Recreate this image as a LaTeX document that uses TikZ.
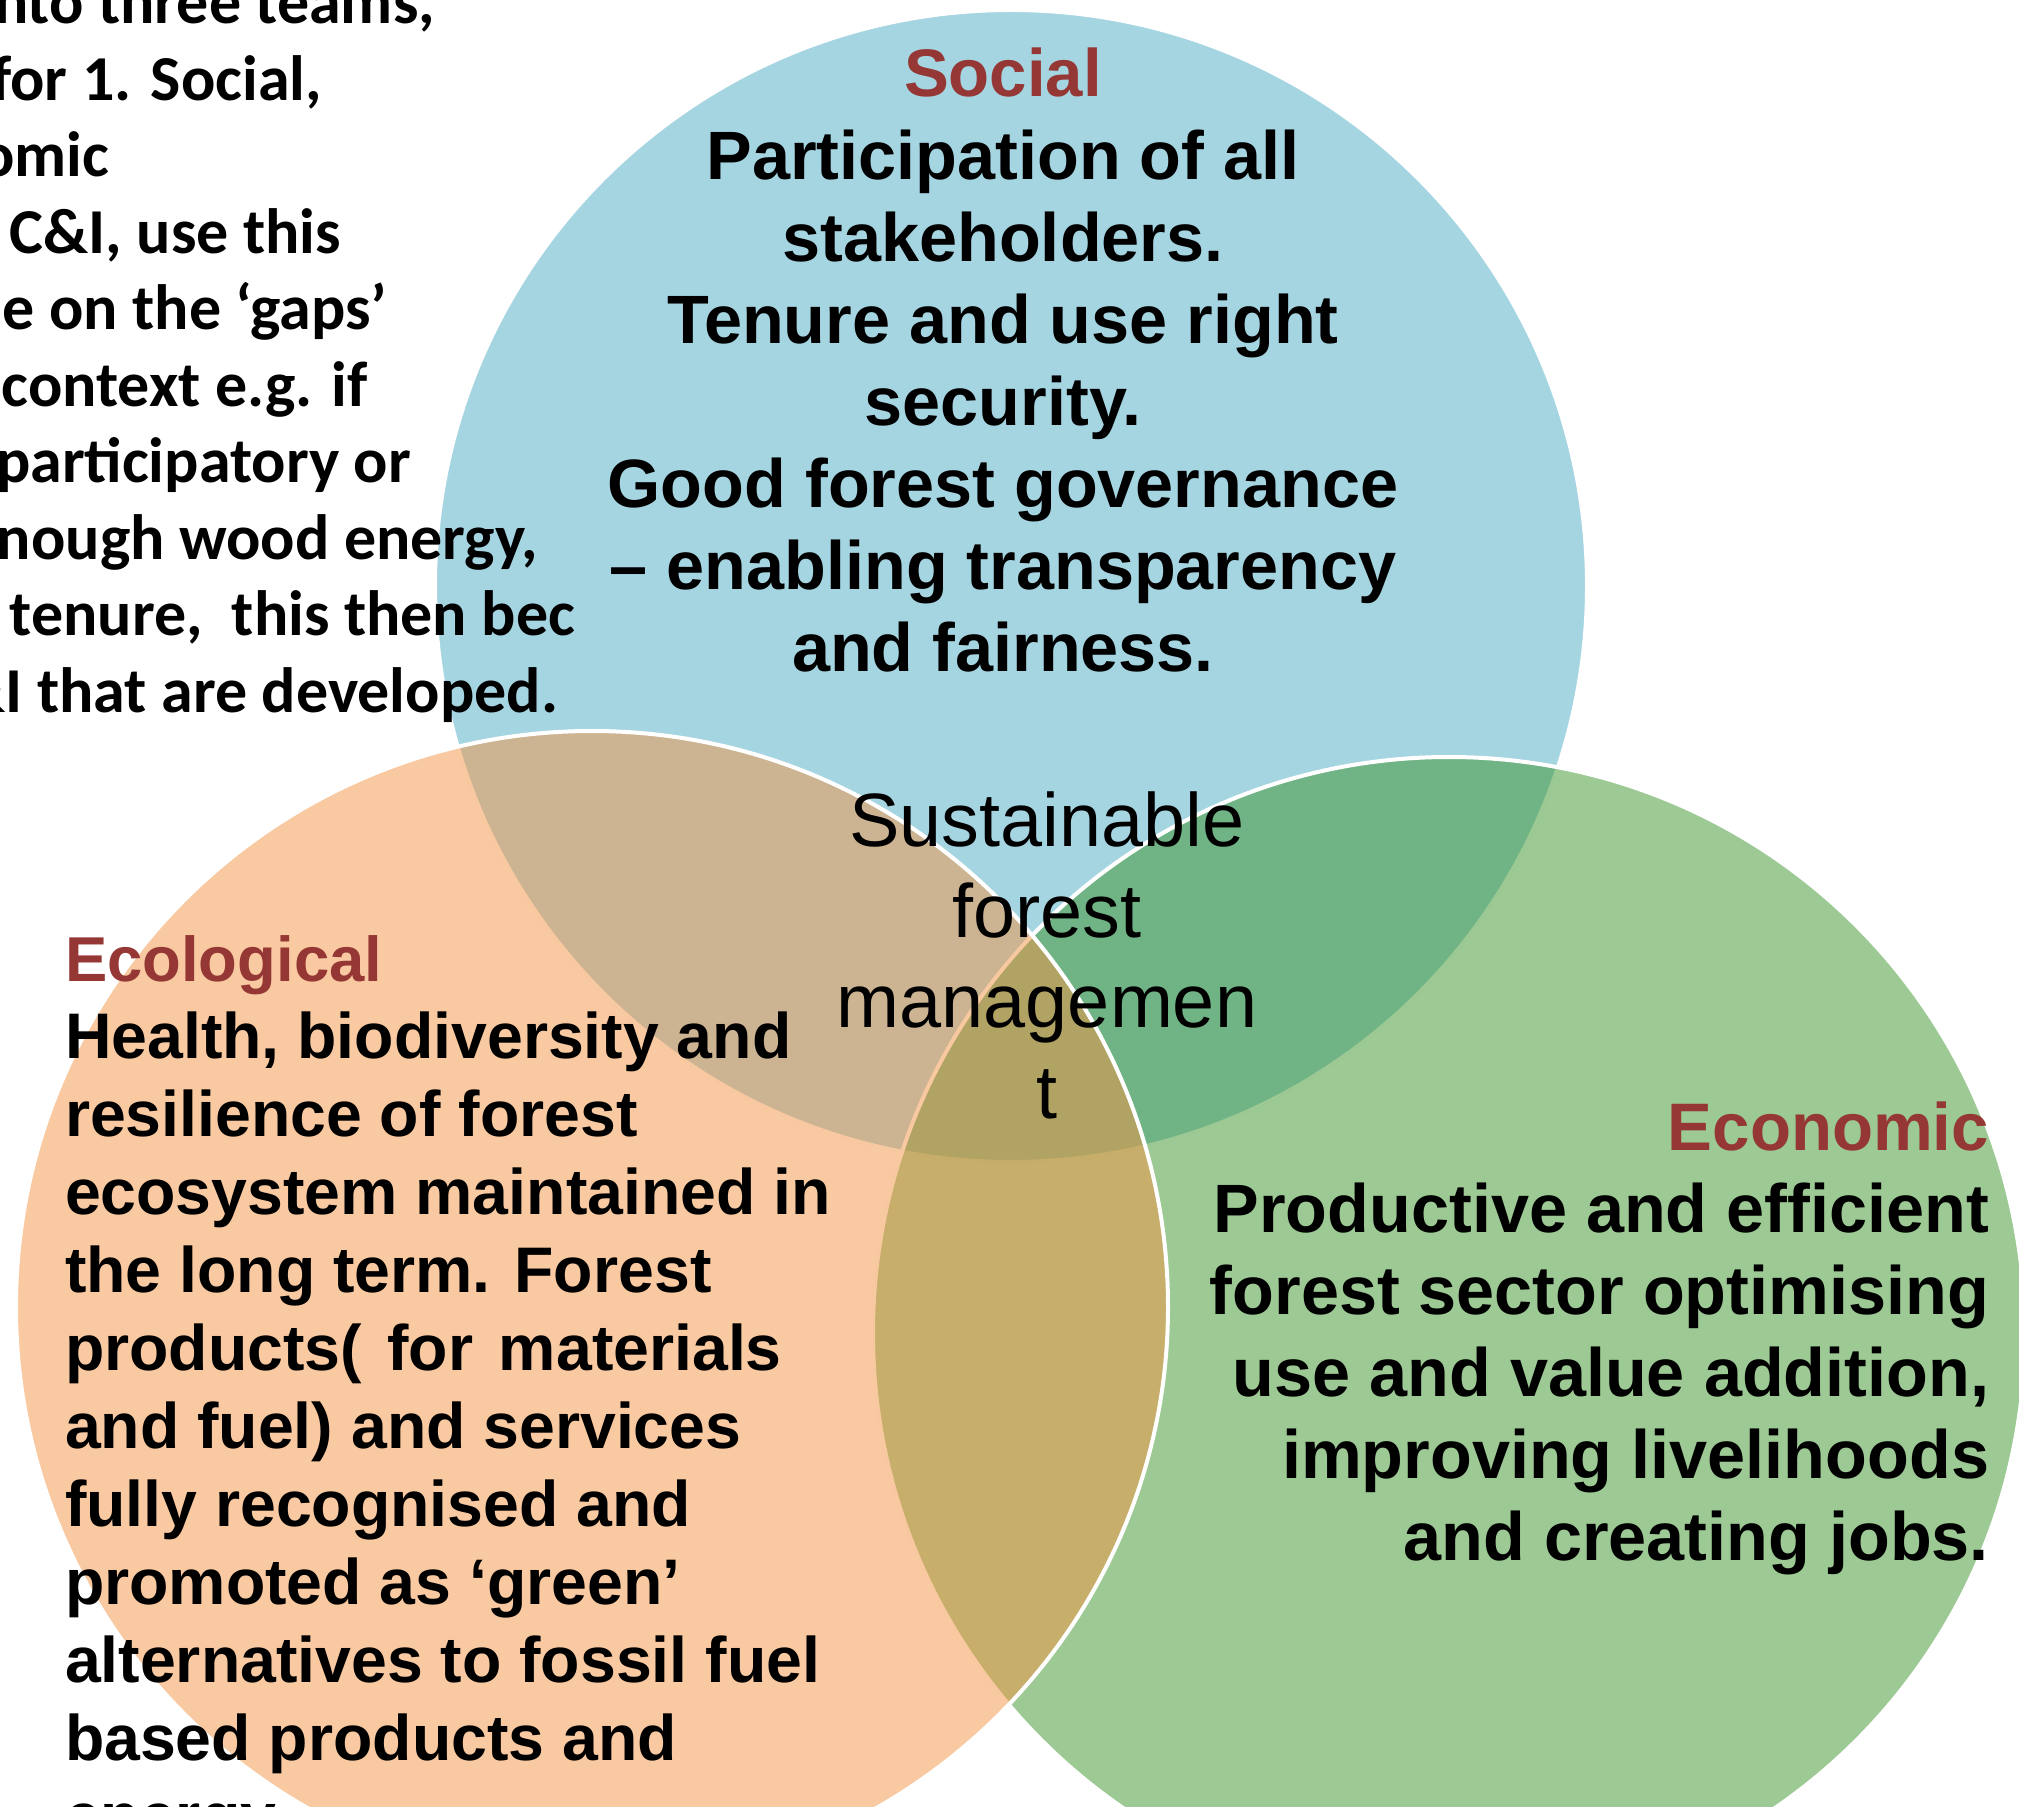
\documentclass[tikz,border=0pt]{standalone}
\usepackage{fontspec}
\setmainfont{Liberation Sans}
\newfontfamily\carlito{Carlito}
\definecolor{socialc}{RGB}{77,171,197}
\definecolor{ecolc}{RGB}{243,147,67}
\definecolor{econc}{RGB}{59,147,41}
\definecolor{titlered}{RGB}{149,55,53}
\begin{document}
\begin{tikzpicture}[x=0.5pt,y=-0.5pt,
  venn/.style={circle, draw=white, line width=2pt, fill opacity=0.5, inner sep=0pt, minimum size=576pt},
  txt/.style={inner sep=0pt, outer sep=0pt},
  bigttl/.style={txt, text=titlered, font=\bfseries\fontsize{33.6pt}{40pt}\selectfont},
  bigbody/.style={txt, font=\bfseries\fontsize{34.2pt}{40pt}\selectfont},
  ecottl/.style={txt, text=titlered, font=\bfseries\fontsize{31.7pt}{38pt}\selectfont},
  ecobody/.style={txt, font=\bfseries\fontsize{32.2pt}{38pt}\selectfont},
  centertxt/.style={txt, font=\fontsize{37.8pt}{45pt}\selectfont},
  notetxt/.style={txt, font=\carlito\bfseries\fontsize{32pt}{38pt}\selectfont, anchor=base east}
]
\useasboundingbox (0,0) rectangle (2019,1807);
\clip (0,0) rectangle (2019,1807);

% circles: blue, green, orange (drawing order gives the blends)
\node[venn, fill=socialc] (social) at (1011,586) {};
\node[venn, fill=econc] (economic) at (1449,1333) {};
\node[venn, fill=ecolc] (ecological) at (592,1307) {};

% note text at top left (cut by the left edge)
\foreach \t/\xe [count=\i from 0] in {
  {nto three teams,}/435,
  {for 1. Social,}/322,
  {omic}/109,
  {C\&I, use this}/341,
  {e on the ‘gaps’}/387,
  {context e.g. if}/368,
  {participatory or}/411,
  {nough wood energy,}/538,
  {tenure,\ \ this then bec}/575,
  {\&I that are developed.}/558}
  \node[notetxt] (note\i) at (\xe,{24+76.5*\i}) {\t};

% Social
\node[bigttl, anchor=base] (socttl) at (1003,97) {Social};
\foreach \t [count=\i from 0] in {
  {Participation of all},
  {stakeholders.},
  {Tenure and use right},
  {security.},
  {Good forest governance},
  {– enabling transparency},
  {and fairness.}}
  \node[bigbody, anchor=base] (soc\i) at (1003,{180+82*\i}) {\t};

% Economic
\node[bigttl, anchor=base east] (econttl) at (1989,1150) {Economic};
\foreach \t [count=\i from 0] in {
  {Productive and efficient},
  {forest sector optimising},
  {use and value addition,},
  {improving livelihoods},
  {and creating jobs.}}
  \node[bigbody, anchor=base east] (econ\i) at (1989,{1232+82*\i}) {\t};

% Ecological
\node[ecottl, anchor=base west] (ecolttl) at (65,981) {Ecological};
\foreach \t [count=\i from 0] in {
  {Health, biodiversity and},
  {resilience of forest},
  {ecosystem maintained in},
  {the long term. Forest},
  {products(\hspace{0.12em} for\hspace{0.12em} materials},
  {and fuel) and services},
  {fully recognised and},
  {promoted as ‘green’},
  {alternatives to fossil fuel},
  {based products and},
  {energy}}
  \node[ecobody, anchor=base west] (ecol\i) at (65,{1058+78*\i}) {\t};

% centre
\foreach \t [count=\i from 0] in {
  {Sustainable},
  {forest},
  {managemen},
  {t}}
  \node[centertxt, anchor=base] (sfm\i) at (1047,{847+90.4*\i}) {\t};
\end{tikzpicture}
\end{document}
